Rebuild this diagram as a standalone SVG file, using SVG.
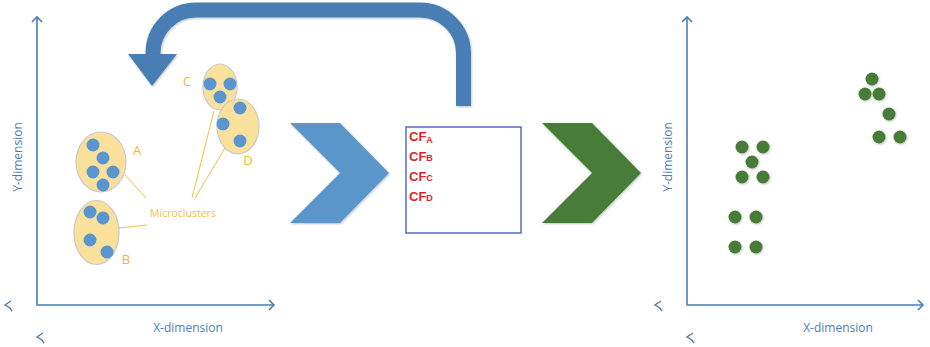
<svg xmlns="http://www.w3.org/2000/svg" width="930" height="347" viewBox="0 0 930 347">
<style>
.axis{stroke:#4a7eb5;stroke-width:1.6;fill:none}
.tick{stroke:#4a7eb5;stroke-width:1.4;fill:none}
.alabel{font-family:"Open Sans","Liberation Sans",sans-serif;font-size:12px;fill:#4a7eb5}
.mc{fill:#f9e19b;stroke:#c9c9c9;stroke-width:1.2}
.bdot{fill:#5b95cf}
.gdot{fill:#467c38}
.lab{font-family:"Open Sans","Liberation Sans",sans-serif;font-size:13px;fill:#f5b62a}
.lead{stroke:#f5bf3a;stroke-width:1;fill:none}
.cf{font-family:"Liberation Sans",Arial,sans-serif;font-weight:bold;font-size:13px;fill:#e02424}
.sub{font-size:9px}
</style>
<defs>
<filter id="sh" x="-20%" y="-20%" width="140%" height="140%">
<feDropShadow dx="0.8" dy="1" stdDeviation="0.8" flood-color="#000" flood-opacity="0.25"/>
</filter>
</defs>

<g id="left-plot">
<path class="axis" d="M37,17 V305 H274"/>
<path class="axis" d="M32,22 L37,17 L42,22"/>
<path class="axis" d="M269,300 L274,305 L269,310"/>
<path class="tick" d="M11,301 L5,305 L10,308 L12,311"/>
<path class="tick" d="M43,333 L37,337 L42,340 L44,343"/>
<text class="alabel" transform="translate(22,157) rotate(-90)" text-anchor="middle">Y-dimension</text>
<text class="alabel" x="188" y="332" text-anchor="middle">X-dimension</text>
</g>

<g id="connectors">
<path d="M153,54 V53 A43,43 0 0 1 196,10 H420 A43.5,43.5 0 0 1 463.5,53.5 V106" fill="none" stroke="#4a7eb5" stroke-width="15" filter="url(#sh)"/>
<polygon points="128,54 177,54 152,86" fill="#4a7eb5" filter="url(#sh)"/>
<path class="lead" d="M125,175 L146,198"/>
<path class="lead" d="M119,228 L147,225"/>
<path class="lead" d="M214,111 L192,198"/>
<path class="lead" d="M225,148 L195,198"/>
</g>

<g id="cluster-A">
<ellipse class="mc" cx="101" cy="162" rx="25" ry="30"/>
<circle class="bdot" cx="93" cy="145" r="6.5"/>
<circle class="bdot" cx="103" cy="158" r="6.5"/>
<circle class="bdot" cx="93" cy="172" r="6.5"/>
<circle class="bdot" cx="113" cy="172" r="6.5"/>
<circle class="bdot" cx="103" cy="185" r="6.5"/>
<text class="lab" x="137" y="155" text-anchor="middle">A</text>
</g>

<g id="cluster-B">
<ellipse class="mc" cx="96.5" cy="232.5" rx="22.5" ry="32"/>
<circle class="bdot" cx="90" cy="212" r="6.5"/>
<circle class="bdot" cx="103" cy="218" r="6.5"/>
<circle class="bdot" cx="90" cy="240" r="6.5"/>
<circle class="bdot" cx="107" cy="252" r="6.5"/>
<text class="lab" x="126" y="264" text-anchor="middle">B</text>
</g>

<g id="cluster-C">
<ellipse class="mc" cx="220" cy="87" rx="17" ry="23"/>
<circle class="bdot" cx="210" cy="84" r="6.5"/>
<circle class="bdot" cx="230" cy="84" r="6.5"/>
<circle class="bdot" cx="220" cy="97" r="6.5"/>
<text class="lab" x="187" y="86" text-anchor="middle">C</text>
</g>

<g id="cluster-D">
<ellipse class="mc" cx="238" cy="126.5" rx="21" ry="27.5"/>
<circle class="bdot" cx="240" cy="108" r="6.5"/>
<circle class="bdot" cx="223" cy="124" r="6.5"/>
<circle class="bdot" cx="240" cy="141" r="6.5"/>
<text class="lab" x="248" y="165" text-anchor="middle">D</text>
</g>

<g id="microclusters-label">
<text x="183" y="217" text-anchor="middle" font-family="'Open Sans','Liberation Sans',sans-serif" font-size="10.5" fill="#f5c03a">Microclusters</text>
</g>

<g id="blue-chevron">
<polygon points="290,123 340,123 389,173 340,223 290,223 340,173" fill="#5a96ca" filter="url(#sh)"/>
</g>

<g id="cf-box">
<rect x="406" y="127" width="115" height="106" fill="#fff" stroke="#4a5fc1" stroke-width="1.4"/>
<text class="cf" x="409" y="141">CF<tspan class="sub" dy="2">A</tspan></text>
<text class="cf" x="409" y="161">CF<tspan class="sub">B</tspan></text>
<text class="cf" x="409" y="181">CF<tspan class="sub">C</tspan></text>
<text class="cf" x="409" y="201">CF<tspan class="sub">D</tspan></text>
</g>

<g id="green-chevron">
<polygon points="542,123 592,123 641,173 592,223 542,223 592,173" fill="#477d39" filter="url(#sh)"/>
</g>

<g id="right-plot">
<path class="axis" d="M687,17 V305 H923"/>
<path class="axis" d="M682,22 L687,17 L692,22"/>
<path class="axis" d="M918,300 L923,305 L918,310"/>
<path class="tick" d="M661,301 L655,305 L660,308 L662,311"/>
<path class="tick" d="M693,333 L687,337 L692,340 L694,343"/>
<text class="alabel" transform="translate(672,157) rotate(-90)" text-anchor="middle">Y-dimension</text>
<text class="alabel" x="838" y="332" text-anchor="middle">X-dimension</text>
<g filter="url(#sh)">
<circle class="gdot" cx="742" cy="147" r="6.5"/>
<circle class="gdot" cx="763" cy="147" r="6.5"/>
<circle class="gdot" cx="752" cy="162" r="6.5"/>
<circle class="gdot" cx="742" cy="177" r="6.5"/>
<circle class="gdot" cx="763" cy="177" r="6.5"/>
<circle class="gdot" cx="735" cy="217" r="6.5"/>
<circle class="gdot" cx="756" cy="217" r="6.5"/>
<circle class="gdot" cx="735" cy="247" r="6.5"/>
<circle class="gdot" cx="756" cy="247" r="6.5"/>
<circle class="gdot" cx="872" cy="79" r="6.5"/>
<circle class="gdot" cx="865" cy="94" r="6.5"/>
<circle class="gdot" cx="879" cy="94" r="6.5"/>
<circle class="gdot" cx="889" cy="114" r="6.5"/>
<circle class="gdot" cx="879" cy="137" r="6.5"/>
<circle class="gdot" cx="900" cy="137" r="6.5"/>
</g>
</g>
</svg>
